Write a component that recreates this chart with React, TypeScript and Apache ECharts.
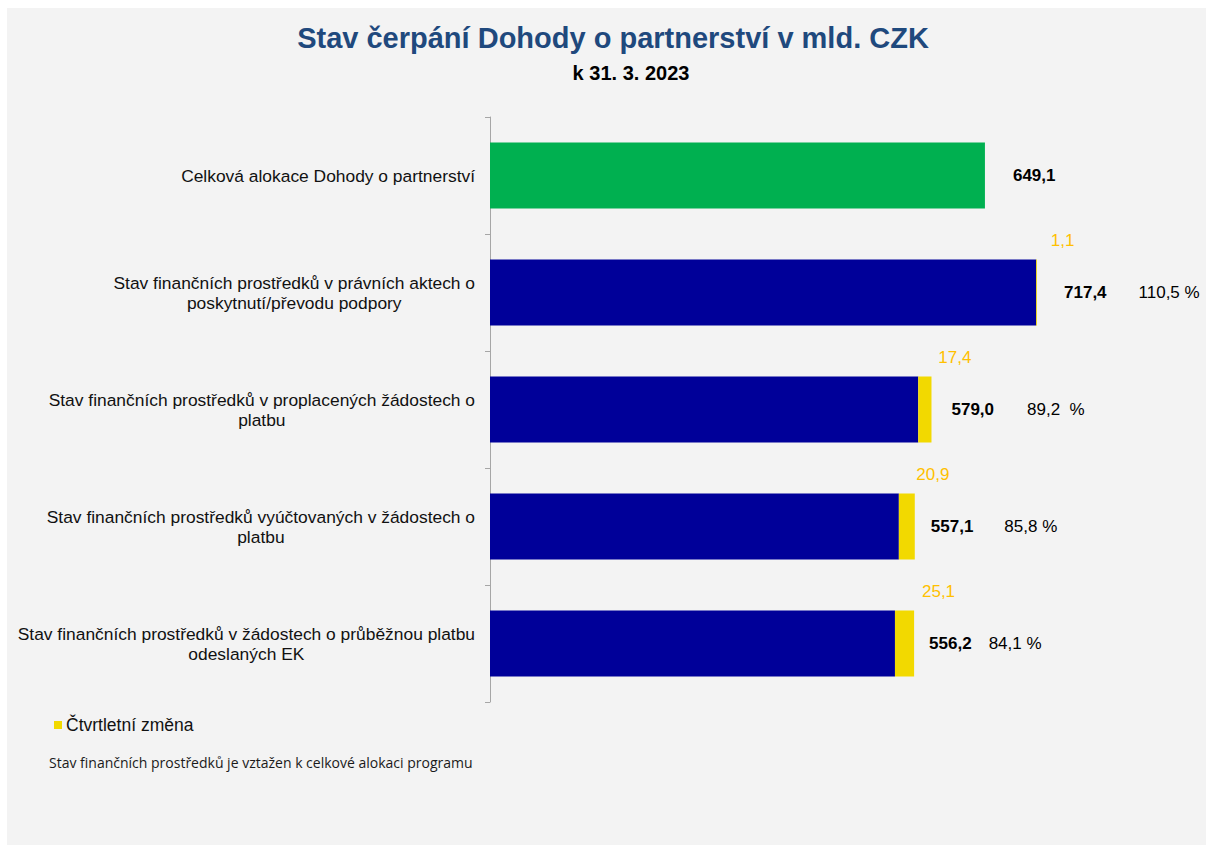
import React, { useEffect, useRef } from "react";
import * as echarts from "echarts";

const categories = [
  "Celková alokace Dohody o partnerství",
  "Stav finančních prostředků v právních aktech o\nposkytnutí/převodu podpory",
  "Stav finančních prostředků v proplacených žádostech o\nplatbu",
  "Stav finančních prostředků vyúčtovaných v žádostech o\nplatbu",
  "Stav finančních prostředků v žádostech o průběžnou platbu\nodeslaných EK",
];
// total value of each row (label in bold)
const totals = [649.1, 717.4, 579.0, 557.1, 556.2];
// quarterly change (yellow part, included in the total)
const changes: (number | null)[] = [null, 1.1, 17.4, 20.9, 25.1];
// share of the total allocation
const shareLabels = ["", "110,5 %", "89,2  %", "85,8 %", "84,1 %"];

const legendName = "Čtvrtletní změna";
const titleText = "Stav čerpání Dohody o partnerství v mld. CZK";
const subtitleText = "k 31. 3. 2023";
const footnoteText = "Stav finančních prostředků je vztažen k celkové alokaci programu";

// label layout tweaks (px)
const totalLabelGap = [28, 27, 20, 16, 15];
const shareGap = [0, 32, 33, 31, 17];
const changeLabelShift = [0, 26, 30, 26, 34];

const fmt = (v: number) => v.toFixed(1).replace(".", ",");

export default function App() {
  const ref = useRef<HTMLDivElement>(null);
  useEffect(() => {
    if (!ref.current) return;
    const chart = echarts.init(ref.current, undefined, { renderer: "svg" });
    const font = "'Liberation Sans', Arial, sans-serif";

    const greenData = totals.map((v, i) => (i === 0 ? v : "-"));
    const blueData = totals.map((v, i) =>
      i === 0 ? "-" : +(v - (changes[i] || 0)).toFixed(1)
    );
    const yellowData = changes.map((c, i) =>
      c == null
        ? "-"
        : {
            value: c,
            label: { offset: [changeLabelShift[i], 0] },
          }
    );
    const labelData = totals.map((v, i) => ({
      value: v,
      label: {
        distance: totalLabelGap[i],
        formatter: shareLabels[i]
          ? `{b|${fmt(v)}}{p${i}|${shareLabels[i]}}`
          : `{b|${fmt(v)}}`,
      },
    }));
    const rich: any = {
      b: { fontFamily: font, fontSize: 17, fontWeight: "bold", color: "#000" },
    };
    shareGap.forEach((g, i) => {
      rich["p" + i] = {
        fontFamily: font,
        fontSize: 17,
        color: "#000",
        padding: [0, 0, 0, g],
      };
    });

    chart.setOption({
      animation: false,
      backgroundColor: "#f3f3f3",
      textStyle: { fontFamily: font },
      grid: { left: 483, top: 109, width: 610, height: 585, containLabel: false },
      xAxis: {
        type: "value",
        min: 0,
        max: 800,
        show: false,
      },
      yAxis: {
        type: "category",
        inverse: true,
        data: categories,
        axisLine: { show: true, lineStyle: { color: "#a6a6a6", width: 1 } },
        axisTick: { show: true, length: 5, lineStyle: { color: "#a6a6a6" } },
        axisLabel: {
          margin: 15,
          align: "right",
          formatter: (v: string) =>
            v
              .split("\n")
              .map((l) => `{c|${l}}`)
              .join("\n"),
          rich: {
            c: {
              align: "center",
              fontFamily: font,
              fontSize: 17.4,
              lineHeight: 20,
              color: "#111",
            },
          },
        },
      },
      legend: {
        data: [{ name: legendName, icon: "rect" }],
        left: 42,
        top: 703,
        itemWidth: 8,
        itemHeight: 8,
        itemGap: 10,
        textStyle: { fontFamily: font, fontSize: 17.5, color: "#111", padding: [0, 0, 0, -1] },
      },
      series: [
        {
          name: "Celková alokace",
          type: "bar",
          stack: "s",
          barWidth: 66,
          data: greenData,
          itemStyle: { color: "#00b050" },
        },
        {
          name: "Stav",
          type: "bar",
          stack: "s",
          barWidth: 66,
          data: blueData,
          itemStyle: { color: "#000099" },
        },
        {
          name: legendName,
          type: "bar",
          stack: "s",
          barWidth: 66,
          data: yellowData,
          itemStyle: { color: "#f2d900" },
          label: {
            show: true,
            position: "top",
            distance: 11,
            color: "#ffc000",
            fontFamily: font,
            fontSize: 17,
            formatter: (p: any) => fmt(p.value),
          },
        },
        {
          name: "labels",
          type: "bar",
          barWidth: 66,
          barGap: "-100%",
          silent: true,
          data: labelData,
          itemStyle: { color: "rgba(0,0,0,0)" },
          label: {
            show: true,
            position: "right",
            rich,
          },
        },
      ],
      graphic: [
        {
          type: "text",
          x: 606,
          y: 30,
          style: {
            text: titleText,
            fontFamily: font,
            fontSize: 29,
            fontWeight: "bold",
            fill: "#1f497d",
            align: "center",
            verticalAlign: "middle",
          },
        },
        {
          type: "text",
          x: 624,
          y: 65,
          style: {
            text: subtitleText,
            fontFamily: font,
            fontSize: 20,
            fontWeight: "bold",
            fill: "#000",
            align: "center",
            verticalAlign: "middle",
          },
        },
        {
          type: "text",
          x: 42,
          y: 754,
          style: {
            text: footnoteText,
            fontFamily: "'Open Sans', 'Noto Sans', sans-serif",
            fontSize: 14,
            fill: "#1a1a1a",
            align: "left",
            verticalAlign: "middle",
          },
        },
      ],
    });
    return () => chart.dispose();
  }, []);

  return (
    <div
      style={{
        position: "fixed",
        left: 0,
        top: 0,
        width: 1206,
        height: 845,
        background: "#fff",
      }}
    >
      <div
        ref={ref}
        style={{ position: "absolute", left: 7, top: 8, width: 1199, height: 837 }}
      />
    </div>
  );
}
